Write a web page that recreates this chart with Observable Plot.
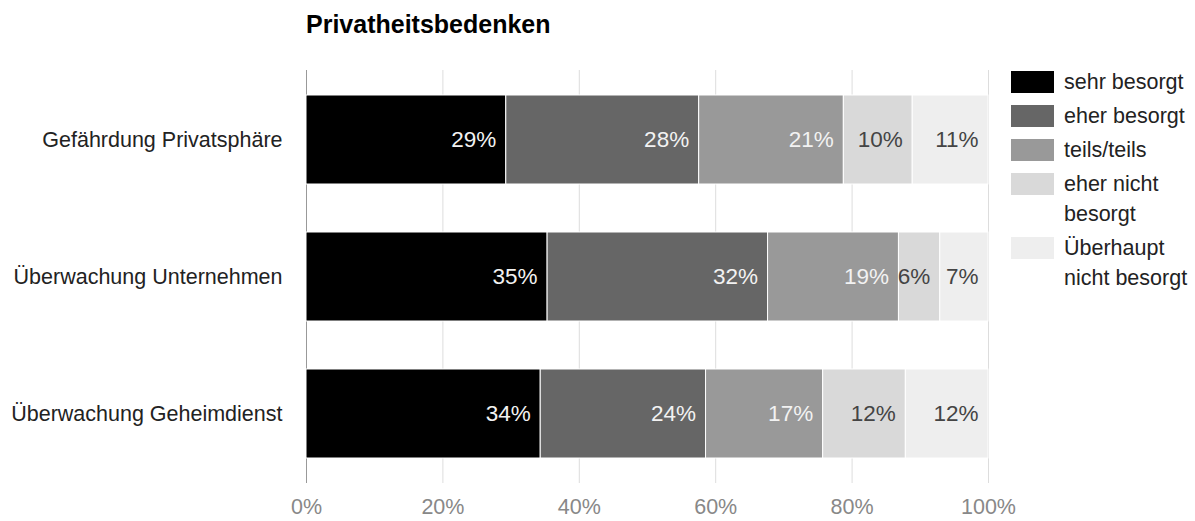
<!DOCTYPE html>
<html>
<head>
<meta charset="utf-8">
<script src="https://cdn.jsdelivr.net/npm/d3@7"></script>
<script src="https://cdn.jsdelivr.net/npm/@observablehq/plot@0.6"></script>
<style>
  html, body { margin: 0; padding: 0; background: #fff; }
  #wrap { position: relative; width: 1195px; height: 521px; font-family: "Liberation Sans", Arial, sans-serif; }
  #title { position: absolute; left: 306px; top: 12px; font-size: 25px; line-height: 25px; font-weight: bold; color: #000; }
  #legend { position: absolute; left: 1011px; top: 67px; font-size: 21.5px; color: #222; }
  .item { display: flex; align-items: flex-start; margin-bottom: 4px; }
  .sw { width: 43px; height: 22px; margin-top: 4px; margin-right: 10px; flex: none; }
  .lbl { width: 130px; line-height: 30px; }
</style>
</head>
<body>
<div id="wrap">
  <div id="chart"></div>
  <div id="title">Privatheitsbedenken</div>
  <div id="legend"></div>
</div>
<script>
const categories = ["Gefährdung Privatsphäre", "Überwachung Unternehmen", "Überwachung Geheimdienst"];
const responses = ["sehr besorgt", "eher besorgt", "teils/teils", "eher nicht besorgt", "Überhaupt nicht besorgt"];
const sehrBesorgt = [29, 35, 34];
const eherBesorgt = [28, 32, 24];
const teilsTeils = [21, 19, 17];
const eherNichtBesorgt = [10, 6, 12];
const ueberhauptNichtBesorgt = [11, 7, 12];
const xTicks = [0, 0.2, 0.4, 0.6, 0.8, 1];

const series = [sehrBesorgt, eherBesorgt, teilsTeils, eherNichtBesorgt, ueberhauptNichtBesorgt];
const data = categories.flatMap((c, i) => responses.map((r, j) => ({category: c, response: r, value: series[j][i]})));
const darkResponses = new Set(responses.slice(0, 3));
const colors = ["#000000", "#666666", "#999999", "#d9d9d9", "#eeeeee"];

const stackOpts = {x: "value", y: "category", z: "response", offset: "normalize"};

const plot = Plot.plot({
  width: 1195,
  height: 521,
  marginTop: 70,
  marginBottom: 38,
  marginLeft: 306,
  marginRight: 207,
  style: {fontFamily: "'Liberation Sans', Arial, sans-serif", fontSize: "21.5px", color: "#222", background: "white"},
  x: {domain: [0, 1], axis: null},
  y: {domain: categories, paddingInner: 0.353, paddingOuter: 0.1765, axis: null},
  color: {domain: responses, range: colors},
  marks: [
    Plot.ruleX(xTicks.slice(1), {stroke: "#dddddd", strokeWidth: 1}),
    Plot.ruleX([0], {stroke: "#999999", strokeWidth: 1}),
    Plot.barX(data, Plot.stackX({...stackOpts, fill: "response", stroke: "white", strokeWidth: 1})),
    Plot.text(data, Plot.stackX2({...stackOpts, text: d => darkResponses.has(d.response) ? d.value + "%" : null, textAnchor: "end", dx: -10, fill: "#f2f2f2", fontSize: 22.5})),
    Plot.text(data, Plot.stackX2({...stackOpts, text: d => darkResponses.has(d.response) ? null : d.value + "%", textAnchor: "end", dx: -10, fill: "#444444", fontSize: 22.5})),
    Plot.axisY({tickSize: 0, tickPadding: 24, fontSize: 21.5, fill: "#222222", label: null}),
    Plot.axisX({ticks: xTicks, tickFormat: d3.format(".0%"), tickSize: 0, tickPadding: 15, fontSize: 21.5, fill: "#888888", label: null})
  ]
});
document.getElementById("chart").appendChild(plot);

const color = plot.scale("color");
const legend = d3.select("#legend");
responses.forEach((r, i) => {
  const item = legend.append("div").attr("class", "item");
  item.append("div").attr("class", "sw").style("background", color.range[i]);
  item.append("div").attr("class", "lbl").text(r);
});
</script>
</body>
</html>
